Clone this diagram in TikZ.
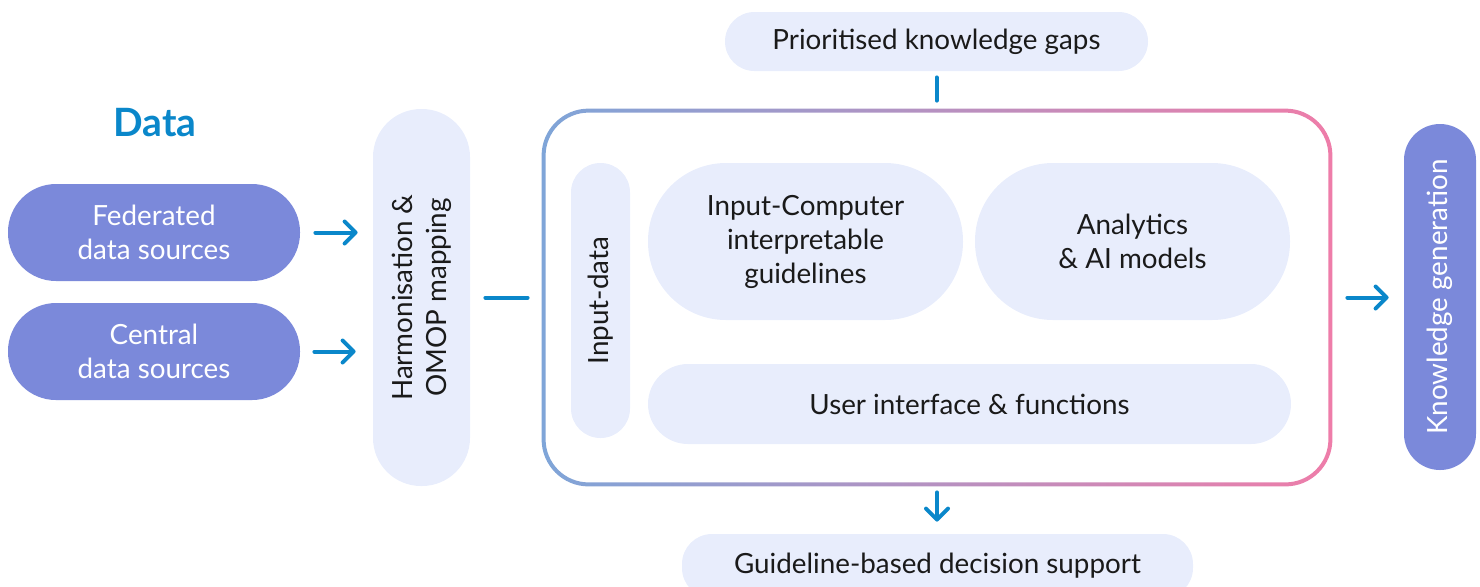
\documentclass[tikz,border=0pt]{standalone}
\usepackage{fontspec}
\setmainfont{Lato}
\usetikzlibrary{arrows.meta,calc}
\definecolor{datafill}{HTML}{7B89DA}
\definecolor{softfill}{HTML}{E8EDFC}
\definecolor{flowblue}{HTML}{0A87CA}
\definecolor{ringblue}{HTML}{7FA5D8}
\definecolor{ringpink}{HTML}{EE7DA9}
\definecolor{inktext}{HTML}{1A1A1A}
\begin{document}
\begin{tikzpicture}[x=0.5pt, y=-0.5pt,
    every node/.style={inner sep=0pt, font=\fontsize{13.9}{17}\selectfont},
    databox/.style={fill=datafill, text=white, align=center},
    softbox/.style={fill=softfill, text=inktext, align=center},
    flowarrow/.style={draw=flowblue, line width=2pt, line cap=round,
      -{Straight Barb[length=5.5pt, width=11pt, line width=2pt, round]}},
    flowline/.style={draw=flowblue, line width=2pt, line cap=round}]
  \useasboundingbox (0,0) rectangle (1480,586);
  \clip (0,0) rectangle (1480,586);

  % data sources
  \node[text=flowblue, font=\fontsize{19.5}{23}\selectfont\bfseries] (title) at (155,123) {Data};
  \node[databox, minimum width=146pt, minimum height=48.5pt, rounded corners=24pt]
    (fed) at (154,232.5) {Federated\\data sources};
  \node[databox, minimum width=146pt, minimum height=48.5pt, rounded corners=24pt]
    (cen) at (154,351.5) {Central\\data sources};

  % harmonisation
  \node[softbox, minimum width=48.5pt, minimum height=188.5pt, rounded corners=24pt]
    (harm) at (421.5,297.5) {};
  \node[text=inktext, rotate=90, align=center] (harm-text) at (harm.center) {Harmonisation \&\\OMOP mapping};

  % core platform
  \node[minimum width=393pt, minimum height=186.5pt] (core) at (937,297.5) {};
  \shade[left color=ringblue, right color=ringpink, even odd rule]
    [rounded corners=23.5pt] ($(core.south west)+(-1pt,-1pt)$) rectangle ($(core.north east)+(1pt,1pt)$)
    [rounded corners=21.5pt] ($(core.south west)+(1pt,1pt)$) rectangle ($(core.north east)+(-1pt,-1pt)$);
  \node[softbox, minimum width=29.5pt, minimum height=137.5pt, rounded corners=14.7pt]
    (input) at (600.5,300.5) {};
  \node[text=inktext, rotate=90] (input-text) at (input.center) {Input-data};
  \node[softbox, minimum width=157.5pt, minimum height=78.5pt, rounded corners=39pt]
    (cig) at (805.5,241.5) {Input-Computer\\interpretable\\guidelines};
  \node[softbox, minimum width=157.5pt, minimum height=78.5pt, rounded corners=39pt]
    (ai) at (1132.5,241.5) {Analytics\\\& AI models};
  \node[softbox, minimum width=321.5pt, minimum height=40pt, rounded corners=20pt]
    (ui) at (969.5,404) {User interface \& functions};

  % top and bottom
  \node[softbox, minimum width=211.5pt, minimum height=29.5pt, rounded corners=14.7pt]
    (gaps) at (936.5,41.5) {Prioritised knowledge gaps};
  \node[softbox, minimum width=255.5pt, minimum height=32pt, rounded corners=15pt]
    (support) at (937.5,566) {Guideline-based decision support};

  % output
  \node[databox, minimum width=36pt, minimum height=173pt, rounded corners=18pt]
    (know) at (1440,297) {};
  \node[text=white, rotate=90] (know-text) at (know.center) {Knowledge generation};

  % connectors
  \draw[flowarrow, shorten <=7.5pt, shorten >=7.5pt] (fed.east) -- (fed.east -| harm.west);
  \draw[flowarrow, shorten <=7pt, shorten >=8.5pt] (cen.east) -- (cen.east -| harm.west);
  \draw[flowline, shorten <=7.5pt, shorten >=8pt] (harm.east) -- (core.west);
  \draw[flowline, shorten <=3pt, shorten >=5pt] (gaps.south) -- (gaps.south |- core.north);
  \draw[flowarrow, shorten <=4pt, shorten >=6pt] (core.south) -- (core.south |- support.north);
  \draw[flowarrow, shorten <=8.5pt, shorten >=7.5pt] (core.east) -- (core.east -| know.west);
\end{tikzpicture}
\end{document}
